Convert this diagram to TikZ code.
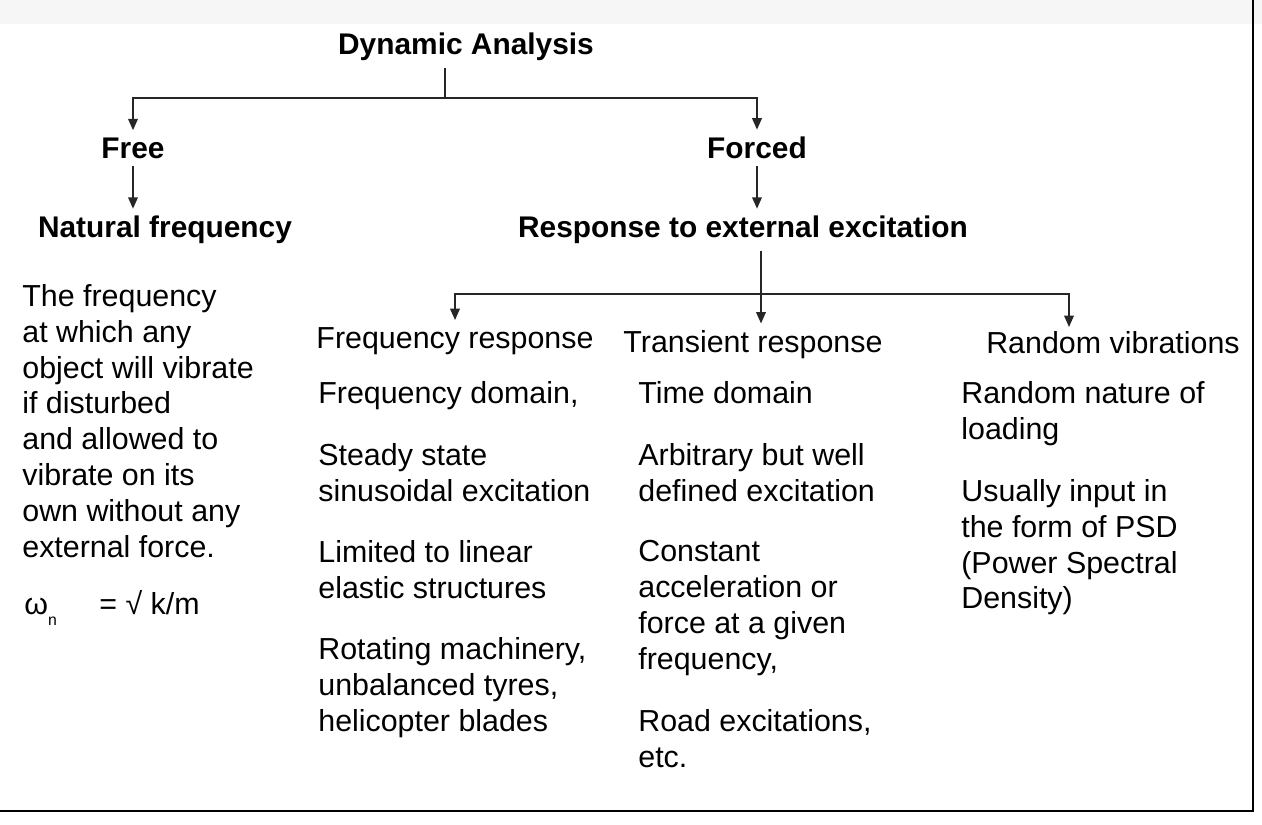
\documentclass[tikz,border=0pt]{standalone}
\usepackage{fontspec}
\setmainfont{Liberation Sans}
\usepackage{tikz}
\usetikzlibrary{arrows.meta}

\begin{document}
\begin{tikzpicture}[x=0.02cm,y=-0.02cm,
    head/.style={font=\fontsize{17}{20.4}\selectfont\bfseries,inner sep=4pt},
    sub/.style={font=\fontsize{17.3}{20.4}\selectfont,inner sep=4pt},
    para/.style={font=\fontsize{17.3}{20.4}\selectfont,align=left,anchor=north west,inner sep=0pt},
    link/.style={line width=0.9pt,black!85},
    tip/.style={-{Triangle[length=6.5pt,width=5.5pt]}}]
    \useasboundingbox (0,0) rectangle (1262,825);
    \fill[gray!7] (0,0) rectangle (1262,24);
    \draw[line width=1.5pt] (1253,0) -- (1253,811) -- (0,811);

    % top of the tree
    \node[head] (dyn) at (466,47) {Dynamic Analysis};
    \node[head] (free) at (133,148) {Free};
    \node[head] (forced) at (757,148) {Forced};
    \node[head] (natural) at (165,230) {Natural frequency};
    \node[head] (resp) at (743,230) {Response to external excitation};
    \coordinate (split1) at (445,98);

    \draw [link] (split1 |- dyn.south) -- (split1);
    \draw [link, tip] (split1) -| (free.north);
    \draw [link, tip] (split1) -| (forced.north);
    \draw [link, tip] (free.south) -- (free.south |- natural.north);
    \draw [link, tip] (forced.south) -- (forced.south |- resp.north);

    % three kinds of forced response
    \node[sub] (freqhead) at (455,341) {Frequency response};
    \node[sub] (transhead) at (753,345) {Transient response};
    \node[sub] (randhead) at (1113,343) {Random vibrations};
    \coordinate (split2) at (761,294);
    \coordinate (randtip) at (1069,327);

    \draw [link, tip] (split2 |- resp.south) -- (split2 |- transhead.north);
    \draw [link, tip] (split2) -| (freqhead.north);
    \draw [link, tip] (split2) -| (randtip);

    % free vibration notes
    \node[para] (freedesc) at (22,284) {The frequency\\at which any\\object will vibrate\\if disturbed\\and allowed to\\vibrate on its\\own without any\\external force.};
    \node[sub, anchor=west, inner sep=0pt] (omega) at (24,608) {ω{\fontsize{9}{9}\selectfont\raisebox{-1.3ex}{n}}\hspace{1.4em}= √ k/m};

    % frequency response notes
    \node[para] (freq1) at (318,381) {Frequency domain,};
    \node[para] (freq2) at (318,443) {Steady state\\sinusoidal excitation};
    \node[para] (freq3) at (318,540) {Limited to linear\\elastic structures};
    \node[para] (freq4) at (318,637) {Rotating machinery,\\unbalanced tyres,\\helicopter blades};

    % transient response notes
    \node[para] (trans1) at (638,381) {Time domain};
    \node[para] (trans2) at (638,443) {Arbitrary but well\\defined excitation};
    \node[para] (trans3) at (638,540) {Constant\\acceleration or\\force at a given\\frequency,};
    \node[para] (trans4) at (638,709) {Road excitations,\\etc.};

    % random vibration notes
    \node[para] (rand1) at (961,381) {Random nature of\\loading};
    \node[para] (rand2) at (961,479) {Usually input in\\the form of PSD\\(Power Spectral\\Density)};
\end{tikzpicture}
\end{document}
